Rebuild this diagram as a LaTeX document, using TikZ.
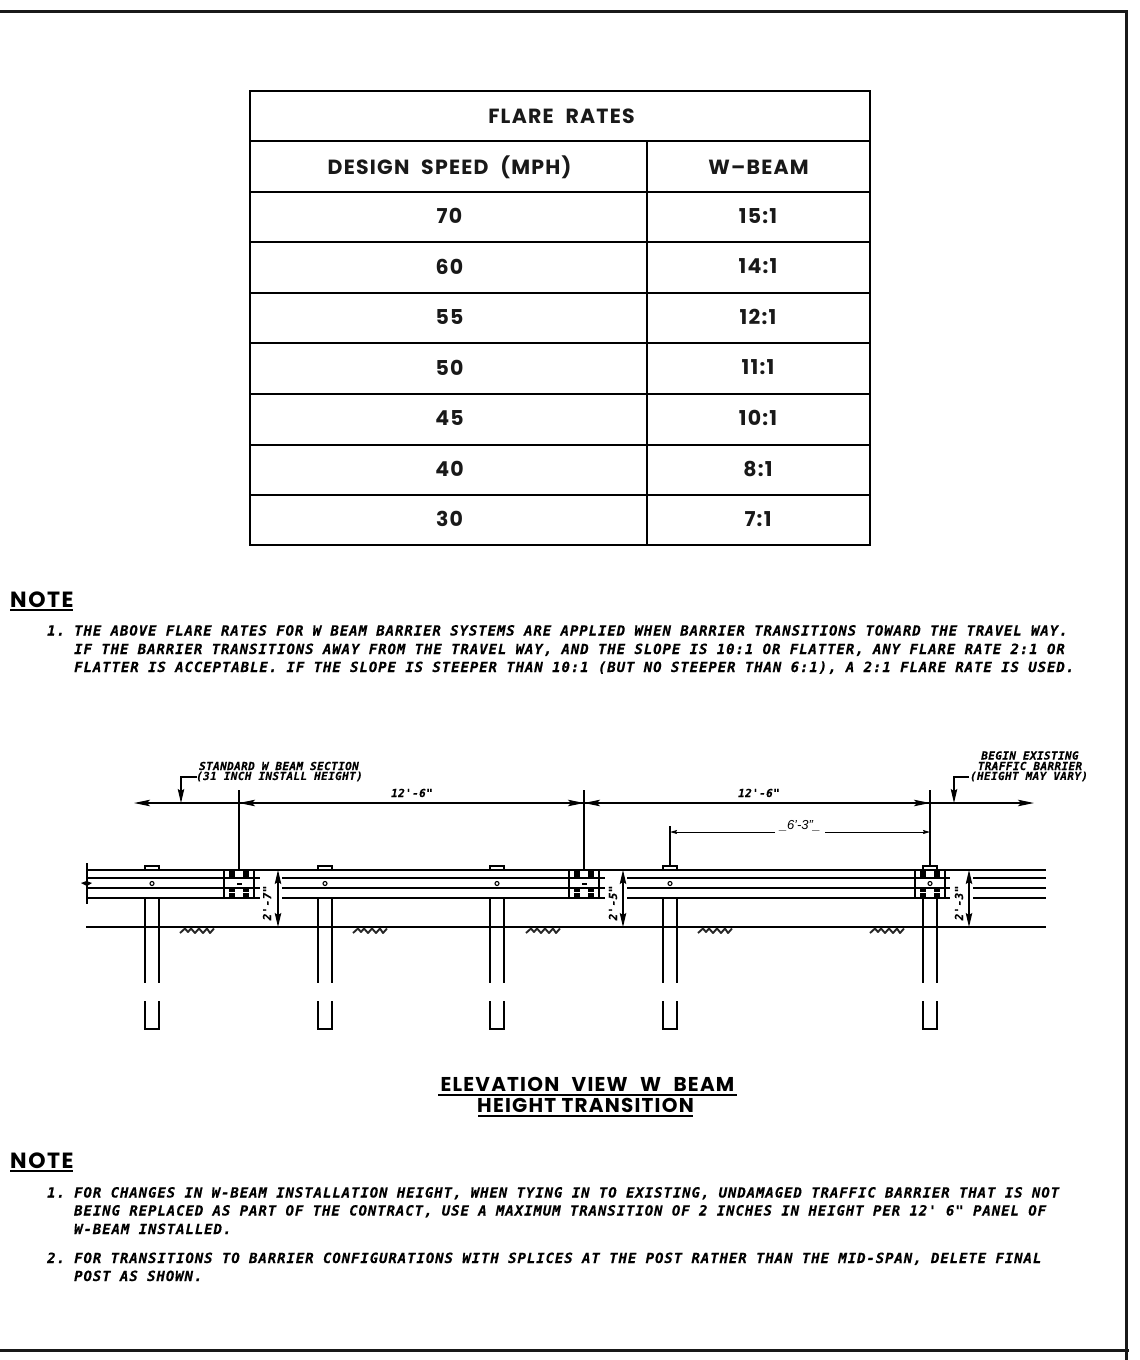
\documentclass[tikz,border=0pt]{standalone}
\usepackage{fontspec}
\usetikzlibrary{arrows.meta}
\setmainfont{Liberation Sans}
\newfontfamily\tblf{Poppins}[LetterSpace=6]
\newfontfamily\titlef{Poppins}[LetterSpace=6]
\newfontfamily\headf{Poppins}[LetterSpace=7]
\newfontfamily\notef{DejaVu Sans Mono}[LetterSpace=6.6,BoldItalicFeatures={FakeBold=0.4}]
\newfontfamily\smallf{DejaVu Sans Mono}[LetterSpace=3.5,BoldItalicFeatures={FakeBold=0.4}]
\tikzset{
 x=1pt,y=-1pt,
 frame/.style={line width=3pt,black!90},
 tline/.style={line width=1.7pt},
 cell/.style={font=\tblf\bfseries\fontsize{20.5}{22}\selectfont,inner sep=0pt,text=black!90},
 note/.style={font=\notef\bfseries\itshape\fontsize{14}{14}\selectfont,anchor=base west,inner sep=0pt,yshift=-5pt},
 sm/.style={font=\smallf\bfseries\itshape\fontsize{11}{11}\selectfont,inner sep=0pt},
 dimtxt/.style={font=\smallf\bfseries\itshape\fontsize{11}{11}\selectfont,inner sep=0pt},
 heading/.style={font=\headf\bfseries\fontsize{22}{22}\selectfont,inner sep=0pt},
 title/.style={font=\titlef\bfseries\fontsize{20}{22}\selectfont,inner sep=0pt},
 uline/.style={line width=2.2pt},
 rail/.style={line width=1.6pt},
 railb/.style={line width=2pt},
 dimline/.style={line width=1.5pt},
 bigarrow/.style={-{Stealth[length=16pt,width=6.5pt,inset=3pt]}},
 vert/.style={-{Stealth[length=14pt,width=6.5pt,inset=2pt]}},
 tiny/.style={-{Stealth[length=7pt,width=4pt,inset=1pt]}},
}
\newcommand{\postat}[2]{%
 \draw[rail] (#1-7,#2) -- (#1-7,983) (#1+7,#2) -- (#1+7,983);
 \draw[rail] (#1-7,1001) -- (#1-7,1029) -- (#1+7,1029) -- (#1+7,1001);
}
\newcommand{\capat}[1]{\draw[line width=1.2pt] (#1-7,870) -- (#1-7,866) -- (#1+7,866) -- (#1+7,870);}
\newcommand{\boltat}[1]{\draw[line width=1.1pt] (#1,883.5) circle (2);}
\newcommand{\spliceat}[1]{%
 \draw[line width=1.6pt] (#1-15,870) -- (#1-15,898) (#1+15,870) -- (#1+15,898);
 \foreach \dx in {-7,7}{\foreach \yy in {873,877,890,895}{\fill (#1+\dx-2.6,\yy-1.6) rectangle (#1+\dx+2.6,\yy+1.6);}}
}
\newcommand{\hatchat}[1]{\draw[line width=1.9pt,line join=round,black!85] (#1,933) -- (#1+5,928.5) -- (#1+8,932) -- (#1+11,928.5) -- (#1+15,933) -- (#1+19,928.5) -- (#1+23,933) -- (#1+27,928.5) -- (#1+30,933) -- (#1+34,928.5);}
\newcommand{\railseg}[2]{%
 \draw[rail] (#1,878) -- (#2,878) (#1,898) -- (#2,898);
 \draw[railb] (#1,888) -- (#2,888);
}
\begin{document}
\begin{tikzpicture}
\useasboundingbox (0,0) rectangle (1140,1360);
% frame
\draw[frame] (0,11.5) -- (1126.5,11.5) (1126.5,10) -- (1126.5,1360) (0,1350.5) -- (1129,1350.5);
% table
\draw[tline] (250,91) rectangle (870,545);
\foreach \yy in {141,192,242,293,343,394,445,495}{\draw[tline] (250,\yy) -- (870,\yy);}
\draw[tline] (647,141) -- (647,545);
\node[cell] (t0) at (561.5,116.5) {FLARE\hspace{.3em} RATES};
\node[cell] (h1) at (449.5,167.5) {DESIGN\hspace{.3em} SPEED\hspace{.3em} (MPH)};
\node[cell] (h2) at (758.5,167.5) {W–BEAM};
\node[cell] at (449.5,216) (a1) {70}; \node[cell] at (758,216) (b1) {15:1};
\node[cell] at (449.5,266.5) (a2) {60}; \node[cell] at (758,266.5) (b2) {14:1};
\node[cell] at (449.5,317) (a3) {55}; \node[cell] at (758,317) (b3) {12:1};
\node[cell] at (449.5,367.5) (a4) {50}; \node[cell] at (758,367.5) (b4) {11:1};
\node[cell] at (449.5,418) (a5) {45}; \node[cell] at (758,418) (b5) {10:1};
\node[cell] at (449.5,469) (a6) {40}; \node[cell] at (758,469) (b6) {8:1};
\node[cell] at (449.5,519) (a7) {30}; \node[cell] at (758,519) (b7) {7:1};
% note 1
\node[heading,anchor=west] (n1) at (10,600) {NOTE};
\draw[uline] (10,610) -- (73,610);
\node[note] (n10) at (47,630.5) {1.};
\node[note] (n11) at (74,630.5) {THE ABOVE FLARE RATES FOR W BEAM BARRIER SYSTEMS ARE APPLIED WHEN BARRIER TRANSITIONS TOWARD THE TRAVEL WAY.};
\node[note] (n12) at (74,649) {IF THE BARRIER TRANSITIONS AWAY FROM THE TRAVEL WAY, AND THE SLOPE IS 10:1 OR FLATTER, ANY FLARE RATE 2:1 OR};
\node[note] (n13) at (74,667) {FLATTER IS ACCEPTABLE. IF THE SLOPE IS STEEPER THAN 10:1 (BUT NO STEEPER THAN 6:1), A 2:1 FLARE RATE IS USED.};
% elevation rails
\draw[rail] (87,870) -- (1046,870);
\railseg{87}{260}\railseg{282}{605}\railseg{627}{950}\railseg{973}{1046}
\draw[line width=1.8pt] (87,863) -- (87,904);
\fill (81,883) -- (86.5,881) -- (92,883) -- (87,886) -- cycle;
\draw[rail] (86,927) -- (1046,927);
\postat{152}{898}\postat{325}{898}\postat{497}{898}\postat{670}{898}\postat{930}{898}
\capat{152}\capat{325}\capat{497}\capat{670}\capat{930}
\boltat{152}\boltat{325}\boltat{497}\boltat{670}\boltat{930}
\spliceat{239}\spliceat{584}\spliceat{930}
\fill (236.5,883) rectangle (241.5,885); \fill (581.5,883) rectangle (586.5,885);
\hatchat{180}\hatchat{353}\hatchat{526}\hatchat{698}\hatchat{870}
% dimension lines
\coordinate (e1) at (239,803); \coordinate (e2) at (584,803); \coordinate (e3) at (930,803);
\coordinate (l) at (134,803); \coordinate (r) at (1034,803);
\draw[dimline] (239,790) -- (239,870) (584,790) -- (584,870) (930,790) -- (930,866) (670,826) -- (670,866);
\draw[line width=1.2pt,bigarrow] (e1) -- (l);
\draw[line width=1.2pt,bigarrow] (e1) -- (e2);
\draw[line width=1.2pt,bigarrow] (e2) -- (e1);
\draw[line width=1.2pt,bigarrow] (e2) -- (e3);
\draw[line width=1.2pt,bigarrow] (e3) -- (e2);
\draw[line width=1.2pt,bigarrow] (e3) -- (r);
\node[dimtxt] (d1) at (412,793) {12'-6"};
\node[dimtxt] (d2) at (759,793) {12'-6"};
% 6-3
\coordinate (p1) at (670,832); \coordinate (p2) at (930,832);
\node[font=\itshape\fontsize{13}{13}\selectfont,inner sep=0pt] (d3) at (800,826) {\_6'-3"\_};
\draw[line width=1pt,tiny] (775,832) -- (p1);
\draw[line width=1pt,tiny] (825,832) -- (p2);
% leaders
\draw[line width=1.2pt,vert] (197,777) -- (181,777) -- (181,803);
\draw[line width=1.2pt,vert] (969,777) -- (954,777) -- (954,803);
\node[sm] (s1) at (279,766) {STANDARD W BEAM SECTION};
\node[sm] (s2) at (279.5,776.5) {(31 INCH INSTALL HEIGHT)};
\node[sm] (s3) at (1030,755.5) {BEGIN EXISTING};
\node[sm] (s4) at (1030,766) {TRAFFIC BARRIER};
\node[sm] (s5) at (1029,776.5) {(HEIGHT MAY VARY)};
% height dims
\draw[line width=1.2pt,vert] (278,897) -- (278,870);
\draw[line width=1.2pt,vert] (278,897) -- (278,927);
\draw[line width=1.2pt,vert] (623,897) -- (623,870);
\draw[line width=1.2pt,vert] (623,897) -- (623,927);
\draw[line width=1.2pt,vert] (969,897) -- (969,870);
\draw[line width=1.2pt,vert] (969,897) -- (969,927);
\node[dimtxt,rotate=90] (h7) at (267,903) {2'-7"};
\node[dimtxt,rotate=90] (h5) at (613,903) {2'-5"};
\node[dimtxt,rotate=90] (h3) at (959,903) {2'-3"};
% title
\node[title] (ti1) at (587.5,1084) {ELEVATION\hspace{.35em} VIEW\hspace{.35em} W\hspace{.35em} BEAM};
\draw[uline] (438,1095) -- (737,1095);
\node[title] (ti2) at (585.5,1105.5) {HEIGHT TRANSITION};
\draw[uline] (478,1116) -- (693,1116);
% note 2
\node[heading,anchor=west] (n2) at (10,1161) {NOTE};
\draw[uline] (10,1171) -- (73,1171);
\node[note] (n20) at (47,1192.5) {1.};
\node[note] (n21) at (74,1192.5) {FOR CHANGES IN W-BEAM INSTALLATION HEIGHT, WHEN TYING IN TO EXISTING, UNDAMAGED TRAFFIC BARRIER THAT IS NOT};
\node[note] (n22) at (74,1210.5) {BEING REPLACED AS PART OF THE CONTRACT, USE A MAXIMUM TRANSITION OF 2 INCHES IN HEIGHT PER 12' 6" PANEL OF};
\node[note] (n23) at (74,1229) {W-BEAM INSTALLED.};
\node[note] (n26) at (47,1258) {2.};
\node[note] (n24) at (74,1258) {FOR TRANSITIONS TO BARRIER CONFIGURATIONS WITH SPLICES AT THE POST RATHER THAN THE MID-SPAN, DELETE FINAL};
\node[note] (n25) at (74,1276) {POST AS SHOWN.};
\end{tikzpicture}
\end{document}
